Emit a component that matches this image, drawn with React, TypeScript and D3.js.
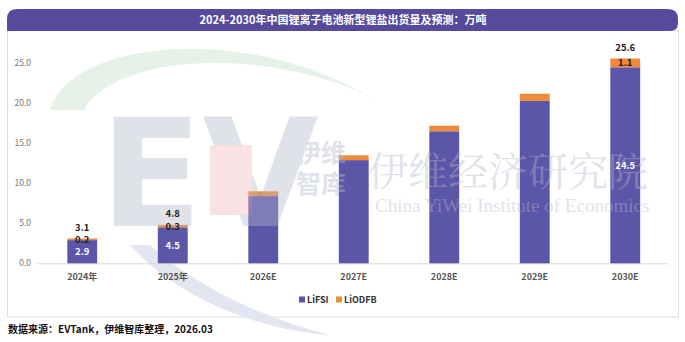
import React from "react";
import * as d3 from "d3";

const categories = ["2024年", "2025年", "2026E", "2027E", "2028E", "2029E", "2030E"];
const lifsi = [2.9, 4.5, 8.4, 12.9, 16.5, 20.3, 24.5];
const liodfb = [0.2, 0.3, 0.6, 0.6, 0.7, 0.9, 1.1];
const totals = [3.1, 4.8, null, null, null, null, 25.6];
const showLabels = [true, true, false, false, false, false, true];
const yTicks = [0, 5, 10, 15, 20, 25];
const seriesNames = ["LiFSI", "LiODFB"];
const title = "2024-2030年中国锂离子电池新型锂盐出货量及预测：万吨";
const source = "数据来源：EVTank，伊维智库整理，2026.03";

const W = 685, H = 342;
const PURPLE = "#5c56a8";
const ORANGE = "#ee8a3a";
const FONT = "'Noto Sans CJK SC', 'Noto Sans', sans-serif";

export default function App() {
  const x = d3.scaleBand<string>().domain(categories).range([37, 670.5]).paddingInner(0.67).paddingOuter(0.335);
  const y = d3.scaleLinear().domain([0, 25]).range([263.3, 63.3]);
  const bw = x.bandwidth();

  return (
    <svg width={W} height={H} style={{ position: "absolute", left: 0, top: 0, background: "#fff" }} fontFamily={FONT}>
      {/* panel */}
      <rect x={7.5} y={30.5} width={671} height={286.5} fill="#fff" stroke="#dedede" />
      {/* title bar */}
      <path d="M7,31 L7,19 Q7,9 17,9 L668,9 Q678,9 678,19 L678,23 Q678,31 670,31 Z" fill="#554a9c" />
      <text x={343} y={24} textAnchor="middle" fill="#fff" fontSize={11} fontWeight="bold">{title}</text>

      {/* watermark background parts */}
      <path d="M50,110 C70,40 250,20 380,103 C330,70 200,45 120,80 C95,92 85,105 85,110 Z" fill="#e6f2e8" />
      <path d="M130,245 C180,300 260,330 330,335 C270,320 200,290 150,245 Z" fill="#e3e6f0" />

      {/* axis */}
      <line x1={37} x2={668} y1={y(0) + 0.5} y2={y(0) + 0.5} stroke="#d9d9d9" />
      {yTicks.map((t) => (
        <text key={t} x={31} y={y(t) + 3} textAnchor="end" fontSize={8.5} fill="#777">{t.toFixed(1)}</text>
      ))}
      {categories.map((c) => (
        <text key={c} x={(x(c) as number) + bw / 2} y={280} textAnchor="middle" fontSize={9} fontWeight="bold" fill="#555">{c}</text>
      ))}

      {/* bars */}
      {categories.map((c, i) => {
        const bx = x(c) as number;
        const a = lifsi[i], b = liodfb[i];
        return (
          <g key={c}>
            <rect x={bx} y={y(a)} width={bw} height={y(0) - y(a)} fill={PURPLE} />
            <rect x={bx} y={y(a + b)} width={bw} height={y(a) - y(a + b)} fill={ORANGE} />
          </g>
        );
      })}

      {/* watermark overlay */}
      <g opacity={0.4} fill="#b4b8cc">
        <text x={100} y={226} fontSize={150} fontWeight="bold" fontFamily="'DejaVu Sans', sans-serif">EV</text>
        <rect x={210} y={145} width={42} height={70} fill="#eeb7bd" />
        <text x={296} y={162} fontSize={25} fontWeight="bold">伊维</text>
        <text x={296} y={193} fontSize={25} fontWeight="bold">智库</text>
        <text x={368} y={186} fontSize={40} fontFamily="'Noto Serif CJK SC', 'Noto Sans CJK SC', serif">伊维经济研究院</text>
        <text x={375} y={212} fontSize={19} fontFamily="'Liberation Serif', serif">China YiWei Institute of Economics</text>
      </g>

      {/* labels */}
      {categories.map((c, i) => {
        if (!showLabels[i]) return null;
        const cx = (x(c) as number) + bw / 2;
        const a = lifsi[i], b = liodfb[i];
        return (
          <g key={c}>
            <text x={cx} y={y(a / 2) + 3.5} textAnchor="middle" fontSize={9.5} fontWeight="bold" fill="#fff">{a.toFixed(1)}</text>
            <text x={cx} y={y(a + b / 2) + 3.5} textAnchor="middle" fontSize={9.5} fontWeight="bold" fill="#222">{b.toFixed(1)}</text>
            {totals[i] != null && (
              <text x={cx} y={y(totals[i] as number) - 7.5} textAnchor="middle" fontSize={9.5} fontWeight="bold" fill="#222">{(totals[i] as number).toFixed(1)}</text>
            )}
          </g>
        );
      })}

      {/* legend */}
      <rect x={299} y={296.5} width={6} height={6} fill={PURPLE} />
      <text x={307} y={303} fontSize={9} fontWeight="bold" fill="#333">{seriesNames[0]}</text>
      <rect x={336} y={296.5} width={6} height={6} fill={ORANGE} />
      <text x={344} y={303} fontSize={9} fontWeight="bold" fill="#333">{seriesNames[1]}</text>

      {/* source */}
      <text x={8} y={333} fontSize={10} fontWeight="bold" fill="#111">{source}</text>
    </svg>
  );
}
